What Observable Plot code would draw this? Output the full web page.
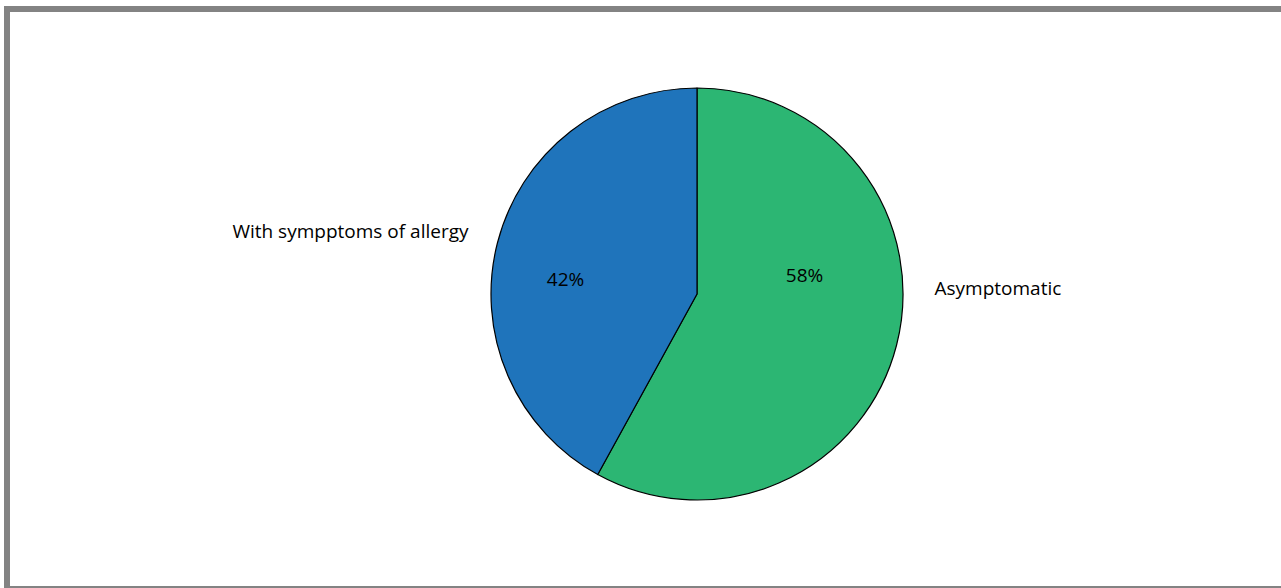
<!DOCTYPE html>
<html>
<head>
<meta charset="utf-8">
<script src="https://cdn.jsdelivr.net/npm/d3@7"></script>
<script src="https://cdn.jsdelivr.net/npm/@observablehq/plot@0.6"></script>
<style>
  html, body { margin: 0; padding: 0; background: #fff; overflow: hidden; }
  #chart { position: absolute; left: 0; top: 0; }
  #frame {
    position: absolute; left: 4px; top: 6px; width: 1300px; height: 586px;
    box-sizing: border-box; border: 6px solid #838383; pointer-events: none;
  }
</style>
</head>
<body>
<div id="chart"></div>
<div id="frame"></div>
<script>
// Share of respondents by allergy status
const categories = ["Asymptomatic", "With sympptoms of allergy"];
const shares = [58, 42];
const percentLabels = ["58%", "42%"];
const sliceColors = ["#2cb673", "#1f74bb"];

const data = categories.map((category, i) => ({
  category,
  share: shares[i],
  label: percentLabels[i]
}));

// Layout
const W = 1281, H = 588;
const cx = 697, cy = 294, radius = 206;
const textColor = "#000";
const fontSize = 19;
// label offsets from the pie centre (px)
const labelLayout = {
  "Asymptomatic": {inner: [107, -19], outer: [237, -6], anchor: "start"},
  "With sympptoms of allergy": {inner: [-132, -15], outer: [-229, -63], anchor: "end"}
};

// Pie slices drawn through a custom render on a dot mark, using the color scale
const pie = Plot.dot(data, {
  x: () => cx,
  y: () => cy,
  fill: "category",
  render(index, scales, values) {
    const g = d3.create("svg:g");
    const arcs = d3.pie().sort(null).value(i => data[i].share)(index);
    const arc = d3.arc().innerRadius(0).outerRadius(radius);
    g.selectAll("path")
      .data(arcs)
      .join("path")
      .attr("transform", a => `translate(${values.x[a.data]},${values.y[a.data]})`)
      .attr("d", arc)
      .attr("fill", a => values.fill[a.data])
      .attr("stroke", "#000")
      .attr("stroke-width", 1.2)
      .attr("stroke-linejoin", "round");
    return g.node();
  }
});

const chart = Plot.plot({
  width: W,
  height: H,
  margin: 0,
  x: {type: "identity", axis: null},
  y: {type: "identity", axis: null},
  color: {domain: categories, range: sliceColors},
  style: {fontFamily: "'Open Sans', sans-serif", background: "transparent"},
  marks: [
    pie,
    Plot.text(data, {
      x: d => cx + labelLayout[d.category].inner[0],
      y: d => cy + labelLayout[d.category].inner[1],
      text: "label",
      fontSize,
      fill: textColor
    }),
    Plot.text(data.filter(d => labelLayout[d.category].anchor === "end"), {
      x: d => cx + labelLayout[d.category].outer[0],
      y: d => cy + labelLayout[d.category].outer[1],
      text: "category",
      textAnchor: "end",
      fontSize,
      fill: textColor
    }),
    Plot.text(data.filter(d => labelLayout[d.category].anchor === "start"), {
      x: d => cx + labelLayout[d.category].outer[0],
      y: d => cy + labelLayout[d.category].outer[1],
      text: "category",
      textAnchor: "start",
      fontSize,
      fill: textColor
    })
  ]
});

document.getElementById("chart").append(chart);
</script>
</body>
</html>
